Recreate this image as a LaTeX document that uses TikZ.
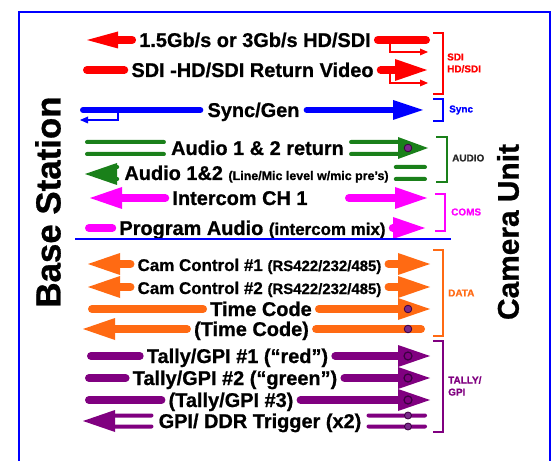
\documentclass[tikz,border=0pt]{standalone}
\usepackage{fontspec}
\setmainfont{Liberation Sans}[BoldFeatures={FakeBold=0.8}]
\usetikzlibrary{arrows.meta}
\definecolor{cred}{HTML}{FF0000}
\definecolor{cblue}{HTML}{0000FF}
\definecolor{cgreen}{HTML}{1A801A}
\definecolor{cmag}{HTML}{FF00FF}
\definecolor{corange}{HTML}{FF6A13}
\definecolor{cpur}{HTML}{800080}
\definecolor{cdot}{HTML}{7A2A8C}
\definecolor{cdotd}{HTML}{3A0040}
\begin{document}
\begin{tikzpicture}[x=1bp,y=-1bp,
  lbl/.style={font=\bfseries\fontsize{20}{22}\selectfont, inner xsep=7bp, inner ysep=0pt, text height=14bp, text depth=0pt},
  shaft/.style={line width=8bp, line cap=round},
  hd/.style={-{Triangle[length=32bp,width=22bp,line width=0pt]}},
  hds/.style={-{Triangle[length=31bp,width=17bp,line width=0pt]}},
  thinarr/.style={line width=1.5bp, -{Triangle[length=8bp,width=7bp,line width=0pt]}},
  dl/.style={line width=4bp, line cap=round},
  brk/.style={line width=2.2bp},
  dotc/.style={fill=cdot, draw=cdotd, line width=0.8bp},
  ring/.style={fill=cpur, draw=cdotd, line width=1.2bp},
  blbl/.style={font=\bfseries\fontsize{10}{12}\selectfont, anchor=west, inner sep=0pt, align=left},
  big/.style={font=\bfseries\fontsize{#1}{#1}\selectfont, rotate=90, inner sep=0pt}
]
\useasboundingbox (0,0) rectangle (555,461);
\fill[white] (0,0) rectangle (555,461);
\draw[cblue, line width=2.5bp] (19,12) rectangle (550,480);

% side titles
\node[big=35] (bs) at (48,202) {Base Station};
\node[big=30] (cu) at (508,232) {Camera Unit};

% Row 1
\node[lbl] (t1) at (255,40) {1.5Gb/s or 3Gb/s HD/SDI};
\coordinate (t1L) at (87,40);
\coordinate (t1R) at (426,40);
\coordinate (b1) at (390,40);
\coordinate (b1e) at (428,52);
\draw[shaft, cred, hds] (t1.west) -- (t1L);
\draw[shaft, cred] (t1.east) -- (t1R);
\draw[thinarr, cred] (b1) |- (b1e);

% Row 2
\node[lbl] (t2) at (252.5,70) {SDI -HD/SDI Return Video};
\coordinate (t2L) at (87,70);
\coordinate (t2R) at (427,70);
\coordinate (b2) at (390,70);
\coordinate (b2e) at (428,83);
\draw[shaft, cred] (t2.west) -- (t2L);
\draw[shaft, cred, hd] (t2.east) -- (t2R);
\draw[thinarr, cred] (b2) |- (b2e);

% Row 3
\node[lbl] (t3) at (253.5,110) {Sync/Gen};
\coordinate (t3L) at (83,110);
\coordinate (t3R) at (423,110);
\coordinate (b3) at (118,110);
\coordinate (b3e) at (80,120);
\draw[shaft, line width=6bp, cblue] (t3.west) -- (t3L);
\draw[shaft, line width=6bp, cblue, -{Triangle[length=30bp,width=20bp,line width=0pt]}] (t3.east) -- (t3R);
\draw[thinarr, cblue] (b3) |- (b3e);

% Row 4
\node[lbl] (t4) at (257.5,148) {Audio 1 \& 2 return};
\draw[dl, cgreen] ([yshift=6bp]t4.west) -- (87,142);
\draw[dl, cgreen] ([yshift=-6bp]t4.west) -- (87,154);
\draw[dl, cgreen] ([yshift=6bp]t4.east) -- (403,142);
\draw[dl, cgreen] ([yshift=-6bp]t4.east) -- (403,154);
\fill[cgreen] (398,137) -- (428,148) -- (398,159) -- cycle;
\filldraw[dotc] (408,148) circle (3.8bp);

% Row 5
\node[lbl] (t5) at (256.5,173) {Audio 1\&2 {\fontsize{12.5}{14}\selectfont(Line/Mic level w/mic pre's)}};
\fill[cgreen] (85,174) -- (117,163) -- (117,185) -- cycle;
\draw[dl, cgreen] ([yshift=6bp]t5.west) -- (113,167);
\draw[dl, cgreen] ([yshift=-6bp]t5.west) -- (113,179);
\draw[dl, cgreen] ([yshift=6bp]t5.east) -- (425,167);
\draw[dl, cgreen] ([yshift=-6bp]t5.east) -- (425,179);

% Row 6
\node[lbl] (t6) at (240,198) {Intercom CH 1};
\coordinate (t6L) at (90,198);
\coordinate (c6) at (349,198);
\coordinate (t6R) at (427,198);
\draw[shaft, cmag, hd] (t6.west) -- (t6L);
\draw[shaft, cmag, hd] (c6) -- (t6R);

% Row 7
\node[lbl] (t7) at (252.5,228) {Program Audio {\fontsize{17}{20}\selectfont(intercom mix)}};
\coordinate (t7L) at (89,228);
\coordinate (t7R) at (425,228);
\draw[shaft, cmag] (t7.west) -- (t7L);
\draw[shaft, cmag, hd] (t7.east) -- (t7R);

% separator
\coordinate (s1) at (75,239);
\coordinate (s2) at (451,239);
\draw[cblue, line width=2bp] (s1) -- (s2);

% Row 8
\node[lbl, font=\bfseries\fontsize{17}{20}\selectfont] (t8) at (259.5,264) {Cam Control \#1 {\fontsize{15}{18}\selectfont(RS422/232/485)}};
\coordinate (t8L) at (88,264);
\coordinate (t8R) at (430,264);
\draw[shaft, corange, hd] (t8.west) -- (t8L);
\draw[shaft, corange, hd] (t8.east) -- (t8R);

% Row 9
\node[lbl, font=\bfseries\fontsize{17}{20}\selectfont] (t9) at (259.5,287) {Cam Control \#2 {\fontsize{15}{18}\selectfont(RS422/232/485)}};
\coordinate (t9L) at (88,287);
\coordinate (t9R) at (430,287);
\draw[shaft, corange, hd] (t9.west) -- (t9L);
\draw[shaft, corange, hd] (t9.east) -- (t9R);

% Row 10
\node[lbl] (t10) at (261,309) {Time Code};
\coordinate (t10L) at (92,309);
\coordinate (t10R) at (430,309);
\draw[shaft, corange] (t10.west) -- (t10L);
\draw[shaft, corange, hd] (t10.east) -- (t10R);
\filldraw[dotc] (408,309) circle (3.8bp);

% Row 11
\node[lbl] (t11) at (251.5,329) {(Time Code)};
\coordinate (t11L) at (83,329);
\coordinate (t11R) at (421,329);
\draw[shaft, corange, hd] (t11.west) -- (t11L);
\draw[shaft, corange] (t11.east) -- (t11R);
\filldraw[dotc] (408,329) circle (3.8bp);

% Row 12
\node[lbl] (t12) at (237.5,356) {Tally/GPI \#1 (“red”)};
\coordinate (t12L) at (91,356);
\coordinate (t12R) at (430,356);
\draw[shaft, cpur] (t12.west) -- (t12L);
\draw[shaft, cpur, hd] (t12.east) -- (t12R);
\filldraw[ring] (408,356) circle (4bp);

% Row 13
\node[lbl] (t13) at (235,378) {Tally/GPI \#2 (“green”)};
\coordinate (t13L) at (89,378);
\coordinate (t13R) at (430,378);
\draw[shaft, cpur] (t13.west) -- (t13L);
\draw[shaft, cpur, hd] (t13.east) -- (t13R);
\filldraw[ring] (408,378) circle (4bp);

% Row 14
\node[lbl] (t14) at (231,400) {(Tally/GPI \#3)};
\coordinate (t14L) at (89,400);
\coordinate (t14R) at (430,400);
\draw[shaft, cpur] (t14.west) -- (t14L);
\draw[shaft, cpur, hd] (t14.east) -- (t14R);
\filldraw[ring] (408,400) circle (4bp);

% Row 15
\node[lbl] (t15) at (260,421) {GPI/ DDR Trigger (x2)};
\fill[cpur] (83,421) -- (115,410) -- (115,432) -- cycle;
\draw[dl, cpur] ([yshift=5.5bp]t15.west) -- (111,415.5);
\draw[dl, cpur] ([yshift=-5.5bp]t15.west) -- (111,426.5);
\draw[dl, cpur] ([yshift=5.5bp]t15.east) -- (425,415.5);
\draw[dl, cpur] ([yshift=-5.5bp]t15.east) -- (425,426.5);
\filldraw[dotc] (408,415.5) circle (3.5bp);
\filldraw[dotc] (408,426.5) circle (3.5bp);

% brackets
\draw[brk, cred] (433,33) -- (443,33) -- (443,94) -- (433,94);
\draw[brk, cblue] (433,99) -- (443,99) -- (443,121) -- (433,121);
\draw[brk, cgreen] (436,137) -- (447,137) -- (447,182) -- (436,182);
\draw[brk, cmag] (435,194) -- (445,194) -- (445,231) -- (435,231);
\draw[brk, corange] (433,250) -- (443,250) -- (443,336) -- (433,336);
\draw[brk, cpur] (433,341) -- (443,341) -- (443,432) -- (433,432);

% bracket labels
\node[blbl, text=cred] (lsdi) at (447,63) {SDI\\HD/SDI};
\node[blbl, text=cblue] (lsync) at (449,110) {Sync};
\node[blbl, text=black!85] (laud) at (452,158) {AUDIO};
\node[blbl, text=cmag] (lcoms) at (451,212) {COMS};
\node[blbl, text=corange] (ldata) at (448,293) {DATA};
\node[blbl, text=cpur] (ltally) at (448,386) {TALLY/\\GPI};
\end{tikzpicture}
\end{document}
